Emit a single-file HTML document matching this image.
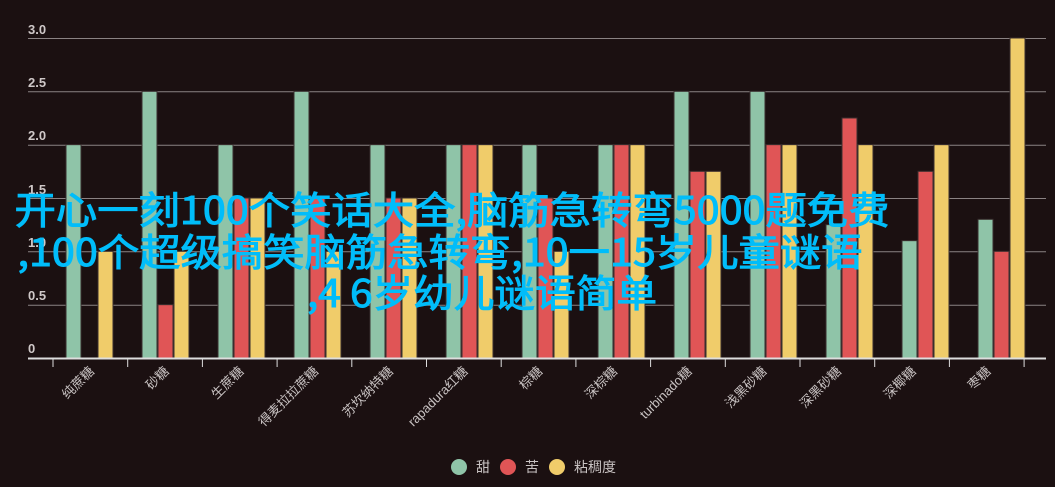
<!DOCTYPE html>
<html><head><meta charset="utf-8"><style>
html,body{margin:0;padding:0;background:#1b1011;}
svg{display:block}
.t{font-family:"Liberation Sans","Noto Sans CJK SC",sans-serif;}
.c{font-family:"Noto Sans CJK SC",sans-serif;}
</style></head><body>
<svg width="1055" height="487" viewBox="0 0 1055 487" xmlns="http://www.w3.org/2000/svg">
<rect width="1055" height="487" fill="#1b1011"/>
<g stroke="#8a8283" stroke-width="1">
<line x1="28" x2="1046" y1="38.5" y2="38.5"/>
<line x1="28" x2="1046" y1="91.8" y2="91.8"/>
<line x1="28" x2="1046" y1="145.2" y2="145.2"/>
<line x1="28" x2="1046" y1="198.5" y2="198.5"/>
<line x1="28" x2="1046" y1="251.8" y2="251.8"/>
<line x1="28" x2="1046" y1="305.2" y2="305.2"/>
</g>
<g class="t" fill="#cfc8c8" font-size="13" font-weight="bold">
<text x="28" y="34">3.0</text><text x="28" y="87">2.5</text><text x="28" y="140">2.0</text>
<text x="28" y="194">1.5</text><text x="28" y="247">1.0</text><text x="28" y="300">0.5</text><text x="28" y="353">0</text>
</g>
<g id="bars" stroke="#3a2e2e" stroke-width="1"></g>
<line x1="28" x2="1046" y1="358.5" y2="358.5" stroke="#dddddd" stroke-width="2"/>
<g id="ticks" stroke="#dddddd" stroke-width="1"></g>
<g id="labels" class="t" fill="#c8c2c2" font-size="13"></g>
<g class="c" fill="#00bdfa" stroke="#00bdfa" stroke-width="1" font-size="38" text-anchor="middle">
<text x="452" y="224" textLength="875" lengthAdjust="spacingAndGlyphs">开心一刻100个笑话大全,脑筋急转弯5000题免费</text>
<text x="440" y="266" textLength="845" lengthAdjust="spacingAndGlyphs">,100个超级搞笑脑筋急转弯,10一15岁儿童谜语</text>
<text x="482" y="307" textLength="350" lengthAdjust="spacingAndGlyphs">,4 6岁幼儿谜语简单</text>
</g>
<g class="t" fill="#c8c2c2" font-size="14">
<circle cx="459" cy="467" r="8" fill="#8fc4a8"/><text x="476" y="472">甜</text>
<circle cx="508" cy="467" r="8" fill="#e05556"/><text x="525" y="472">苦</text>
<circle cx="557" cy="467" r="8" fill="#f0cc6a"/><text x="574" y="472">粘稠度</text>
</g>
</svg>
<script>
var ns="http://www.w3.org/2000/svg";
var names=["纯蔗糖","砂糖","生蔗糖","得麦拉拉蔗糖","苏坎纳特糖","rapadura红糖","棕糖","深棕糖","turbinado糖","浅黑砂糖","深黑砂糖","深椰糖","枣糖"];
var v=[[2,0,1],[2.5,0.5,1],[2,1.5,1.5],[2.5,1.5,1],[2,1.5,1.5],[2,2,2],[2,1.5,1],[2,2,2],[2.5,1.75,1.75],[2.5,2,2],[1.25,2.25,2],[1.1,1.75,2],[1.3,1,3]];
var cols=["#8fc4a8","#e05556","#f0cc6a"];
var g=document.getElementById("bars"),tk=document.getElementById("ticks"),lb=document.getElementById("labels");
var base=358,k=106.67;
for(var i=0;i<13;i++){
 var c=90+i*76;
 for(var j=0;j<3;j++){
  if(v[i][j]<=0)continue;
  var h=v[i][j]*k,r=document.createElementNS(ns,"rect");
  r.setAttribute("x",c-24+j*16);r.setAttribute("width",15);
  r.setAttribute("y",base-h);r.setAttribute("height",h);r.setAttribute("fill",cols[j]);
  g.appendChild(r);
 }
 var lx=53+i*74.7+42;
 var t=document.createElementNS(ns,"text");
 t.setAttribute("text-anchor","end");
 t.setAttribute("transform","translate("+(lx)+",372) rotate(-45)");
 t.textContent=names[i];lb.appendChild(t);
}
for(var i=0;i<14;i++){
 var x=53+i*74.7,l=document.createElementNS(ns,"line");
 l.setAttribute("x1",x);l.setAttribute("x2",x);l.setAttribute("y1",359);l.setAttribute("y2",367);
 tk.appendChild(l);
}
</script>
</body></html>
